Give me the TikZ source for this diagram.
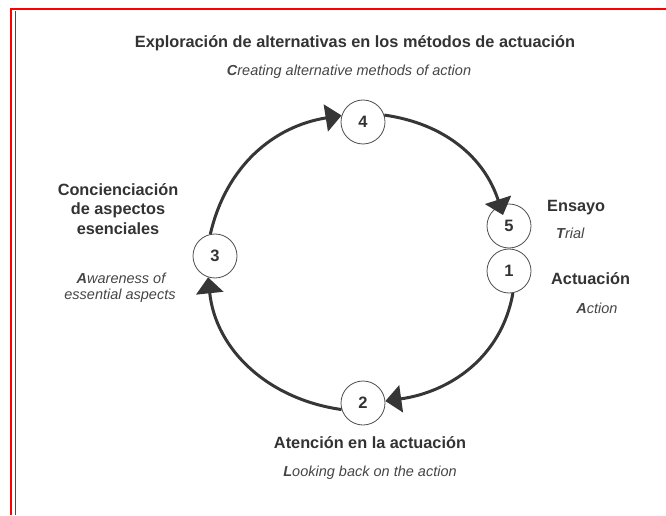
\documentclass[tikz,border=0pt]{standalone}
\usepackage{fontspec}
\setmainfont{Liberation Sans}
\usetikzlibrary{arrows.meta}
\definecolor{arcc}{HTML}{363636}
\definecolor{txt}{HTML}{333333}
\definecolor{txtb}{HTML}{454545}
\definecolor{ringc}{HTML}{4D4D4D}
\definecolor{greyc}{HTML}{4A4A4A}
\definecolor{framered}{HTML}{FF0000}
\begin{document}
\begin{tikzpicture}[x=1pt,y=1pt,
  stage/.style={circle, draw=ringc, line width=0.8pt, fill=white, minimum size=44pt, inner sep=0pt, font=\fontsize{16.5}{19}\selectfont\bfseries, text=txt},
  flow/.style={draw=arcc, line width=3pt, -{Triangle[length=16pt,width=27pt]}},
  head/.style={font=\fontsize{16.3}{19}\selectfont\bfseries, text=txt, inner sep=0pt, anchor=mid},
  sub/.style={font=\fontsize{14.5}{17}\selectfont\itshape, text=txtb, inner sep=0pt, anchor=mid},
]
\useasboundingbox (0,0) rectangle (666,515);
% frame
\draw[framered, line width=2pt] (11,0) -- (11,506.3) -- (666,506.3);
\draw[greyc, line width=1.2pt] (15.4,0) -- (15.4,504);
% stages
\node[stage] (n4) at (363,393) {4};
\node[stage] (n5) at (509,289) {5};
\node[stage] (n1) at (509,244) {1};
\node[stage] (n3) at (215,259) {3};
\node[stage] (n2) at (363,112) {2};
% connectors
\draw[flow] (n4.18) to[out=-8, in=108] ([shift={(-6,11)}]n5.center);
\draw[flow] (n1.-80) to[out=-100, in=8] (n2.5);
\draw[flow] (n2.197) to[out=172, in=-84] (n3.252);
\draw[flow] (n3.102) to[out=77, in=189] (n4.163);
% texts
\node[head] (t4) at (355,470) {Exploración de alternativas en los métodos de actuación};
\node[sub] (s4) at (349,442) {\textbf{C}reating alternative methods of action};
\node[head] (t3a) at (118,322.5) {Concienciación};
\node[head] (t3b) at (118,303) {de aspectos};
\node[head] (t3c) at (118,283.5) {esenciales};
\node[sub] (s3a) at (121,234) {\textbf{A}wareness of};
\node[sub] (s3b) at (120,218) {essential aspects};
\node[head, anchor=mid west] (t5) at (547,306) {Ensayo};
\node[sub, anchor=mid west] (s5) at (556,279) {\textbf{T}rial};
\node[head, anchor=mid west] (t1) at (551,233) {Actuación};
\node[sub] (s1) at (597,204) {\textbf{A}ction};
\node[head] (t2) at (370,69) {Atención en la actuación};
\node[sub] (s2) at (370,41) {\textbf{L}ooking back on the action};
\end{tikzpicture}
\end{document}
